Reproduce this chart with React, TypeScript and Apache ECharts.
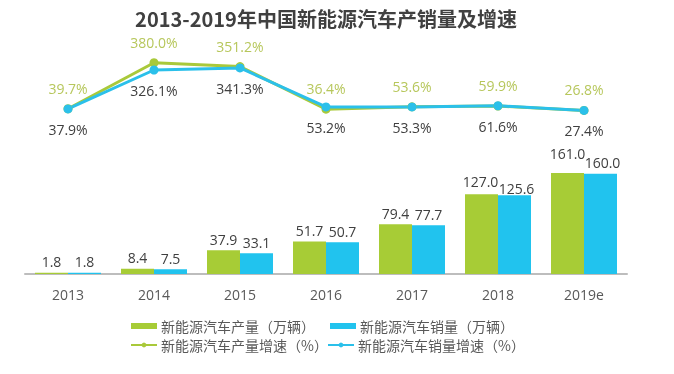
import React, { useEffect, useRef } from "react";
import * as echarts from "echarts";

const years = ["2013", "2014", "2015", "2016", "2017", "2018", "2019e"];
const production = [1.8, 8.4, 37.9, 51.7, 79.4, 127.0, 161.0];
const sales = [1.8, 7.5, 33.1, 50.7, 77.7, 125.6, 160.0];
const productionGrowth = [39.7, 380.0, 351.2, 36.4, 53.6, 59.9, 26.8];
const salesGrowth = [37.9, 326.1, 341.3, 53.2, 53.3, 61.6, 27.4];

const titleText = "2013-2019年中国新能源汽车产销量及增速";
const nameProd = "新能源汽车产量（万辆）";
const nameSales = "新能源汽车销量（万辆）";
const nameProdG = "新能源汽车产量增速（%）";
const nameSalesG = "新能源汽车销量增速（%）";

const GREEN = "#a7cc36";
const BLUE = "#21c3ee";
const GREEN_LINE = "#a9c93a";
const BLUE_LINE = "#2bc0ea";
const FONT = "'Open Sans', 'Noto Sans CJK SC', sans-serif";

// label nudges to keep crowded bar labels apart (styling only)
const prodLabelOffsets: Record<number, number[]> = { 5: [-1, -2], 6: [0, -9] };
const salesLabelOffsets: Record<number, number[]> = { 5: [2, 4], 6: [2, 0] };

export default function App() {
  const ref = useRef<HTMLDivElement>(null);
  useEffect(() => {
    if (!ref.current) return;
    const chart = echarts.init(ref.current, null, { renderer: "svg" });
    const legendBase = {
      orient: "horizontal",
      padding: 0,
      itemGap: 0,
      itemWidth: 26,
      itemHeight: 6,
      lineStyle: { width: 2 },
      textStyle: { color: "#595959", fontSize: 14, fontFamily: "'Noto Sans CJK SC', sans-serif", padding: [0, 0, 0, -1] },
    };
    const barLabel = {
      show: true,
      position: "top",
      distance: 4,
      color: "#404040",
      fontSize: 14,
      fontFamily: FONT,
      formatter: (p: any) => Number(p.value).toFixed(1),
    };
    chart.setOption({
      animation: false,
      textStyle: { fontFamily: FONT },
      graphic: [
        {
          type: "text",
          x: 326,
          y: 18,
          style: {
            text: titleText,
            align: "center",
            verticalAlign: "middle",
            fontSize: 20,
            fontWeight: "bold",
            fill: "#404040",
            fontFamily: "'Noto Sans CJK SC', sans-serif",
          },
        },
      ],
      legend: [
        { ...legendBase, left: 131, top: 319, data: [{ name: nameProd, icon: "rect" }] },
        { ...legendBase, left: 330, top: 319, data: [{ name: nameSales, icon: "rect" }] },
        { ...legendBase, left: 130, top: 338, data: [nameProdG] },
        { ...legendBase, left: 327, top: 338, data: [nameSalesG] },
      ],
      grid: [
        { left: 25, right: 47, top: 148.6, bottom: 100 },
        { left: 25, right: 47, top: 60, bottom: 259.9 },
      ],
      xAxis: [
        {
          type: "category",
          data: years,
          gridIndex: 0,
          axisLine: { lineStyle: { color: "#bdbdbd", width: 2 } },
          axisTick: { show: false },
          axisLabel: { color: "#595959", fontSize: 14, margin: 13, fontFamily: FONT },
        },
        {
          type: "category",
          data: years,
          gridIndex: 1,
          show: false,
        },
      ],
      yAxis: [
        { type: "value", gridIndex: 0, min: 0, max: 200, show: false, splitLine: { show: false } },
        { type: "value", gridIndex: 1, min: 0, max: 400, show: false, splitLine: { show: false } },
      ],
      series: [
        {
          name: nameProd,
          type: "bar",
          xAxisIndex: 0,
          yAxisIndex: 0,
          data: production.map((v, i) =>
            prodLabelOffsets[i] ? { value: v, label: { offset: prodLabelOffsets[i] } } : v
          ),
          barWidth: 33,
          barGap: "0%",
          itemStyle: { color: GREEN },
          label: barLabel,
        },
        {
          name: nameSales,
          type: "bar",
          xAxisIndex: 0,
          yAxisIndex: 0,
          data: sales.map((v, i) =>
            salesLabelOffsets[i] ? { value: v, label: { offset: salesLabelOffsets[i] } } : v
          ),
          barWidth: 33,
          barGap: "0%",
          itemStyle: { color: BLUE },
          label: barLabel,
        },
        {
          name: nameProdG,
          type: "line",
          xAxisIndex: 1,
          yAxisIndex: 1,
          data: productionGrowth,
          symbol: "circle",
          symbolSize: 9,
          lineStyle: { color: GREEN_LINE, width: 3 },
          itemStyle: { color: GREEN_LINE },
          label: {
            show: true,
            position: "top",
            distance: 9,
            color: "#b7c75c",
            fontSize: 14,
            fontFamily: FONT,
            formatter: (p: any) => Number(p.value).toFixed(1) + "%",
          },
        },
        {
          name: nameSalesG,
          type: "line",
          xAxisIndex: 1,
          yAxisIndex: 1,
          data: salesGrowth,
          symbol: "circle",
          symbolSize: 9,
          lineStyle: { color: BLUE_LINE, width: 3 },
          itemStyle: { color: BLUE_LINE },
          label: {
            show: true,
            position: "bottom",
            distance: 9,
            color: "#404040",
            fontSize: 14,
            fontFamily: FONT,
            formatter: (p: any) => Number(p.value).toFixed(1) + "%",
          },
        },
      ],
    });
    return () => chart.dispose();
  }, []);
  return <div ref={ref} style={{ width: 674, height: 374, position: "fixed", left: 0, top: 0 }} />;
}
